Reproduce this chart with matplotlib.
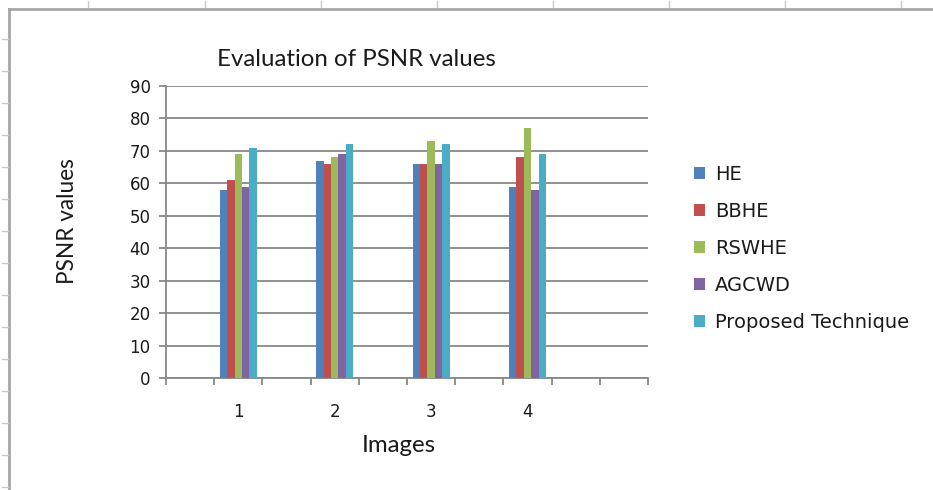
import numpy as np
import matplotlib.pyplot as plt
from matplotlib.lines import Line2D

plt.rcParams['font.family'] = ['DejaVu Sans']

# data
images = ['1', '2', '3', '4']
series = ['HE', 'BBHE', 'RSWHE', 'AGCWD', 'Proposed Technique']
he = [58, 67, 66, 59]
bbhe = [61, 66, 66, 68]
rswhe = [69, 68, 73, 77]
agcwd = [59, 69, 66, 58]
proposed = [71, 72, 72, 69]
colors = ['#4F81BD', '#C0504D', '#9BBB59', '#8064A2', '#4BACC6']

N_SLOTS = 10  # excel category slots on the x axis (only every other one used)

fig = plt.figure(figsize=(9.33, 4.9), dpi=100)
ax = fig.add_axes([166/933, 112/490, 482/933, 292/490])

values = [he, bbhe, rswhe, agcwd, proposed]
centers = np.arange(len(images))*2 + 1.5
w = 0.154
for i, (name, vals) in enumerate(zip(series, values)):
    xs = centers + (i - 2)*w
    ax.bar(xs, vals, width=w, color=colors[i], edgecolor='none', label=name, zorder=3)

ax.set_xlim(0, N_SLOTS)
ax.set_ylim(0, 90)
ax.set_yticks(np.arange(0, 91, 10))
ax.yaxis.grid(True, color='#888888', lw=1.3, zorder=0)
ax.set_xticks(np.arange(0, N_SLOTS+1))
ax.set_xticklabels([])
ax.set_xticks(centers, minor=True)
ax.set_xticklabels(images, minor=True, fontsize=12, color='#1a1a1a')
ax.tick_params(axis='x', which='minor', length=0, pad=18)
ax.tick_params(axis='x', which='major', length=5, color='#888888', width=1.3)
ax.tick_params(axis='y', length=5, color='#888888', width=1.3, labelsize=12,
               labelcolor='#1a1a1a', pad=6)

for s in ['top', 'right']:
    ax.spines[s].set_visible(False)
for s in ['left', 'bottom']:
    ax.spines[s].set_color('#888888')
    ax.spines[s].set_linewidth(1.3)

fig.text(356/933, 1 - 59/490, 'Evaluation of PSNR values', ha='center', va='center',
         fontsize=17.3, family='Lato', color='#1a1a1a')
fig.text(399/933, 1 - 445/490, 'Images', ha='center', va='center', fontsize=17.3,
         family='Lato', color='#1a1a1a')
fig.text(67/933, 1 - 221/490, 'PSNR values', ha='center', va='center', rotation=90,
         fontsize=16.3, family='Lato', color='#1a1a1a')

leg = ax.legend(loc='upper left', bbox_to_anchor=(694/933, 1 - 165/490),
                bbox_transform=fig.transFigure, frameon=False, fontsize=14,
                handlelength=0.57, handleheight=0.57, handletextpad=0.5,
                labelspacing=0.93, borderpad=0, borderaxespad=0)
for t in leg.get_texts():
    t.set_color('#1a1a1a')

# spreadsheet frame around the chart
fig.add_artist(Line2D([9/933, 1], [1 - 9/490]*2, color='#a6a6a6', lw=2))
fig.add_artist(Line2D([9/933]*2, [0, 1 - 9/490], color='#a6a6a6', lw=2))
for x in [88, 205, 321, 437, 553, 669, 785, 901]:
    fig.add_artist(Line2D([x/933]*2, [1 - 1/490, 1 - 7/490], color='#c5cad6', lw=1))
for y in range(39, 490, 32):
    fig.add_artist(Line2D([2/933, 8/933], [1 - y/490]*2, color='#c5cad6', lw=1))

fig.savefig('out.png', dpi=100)
